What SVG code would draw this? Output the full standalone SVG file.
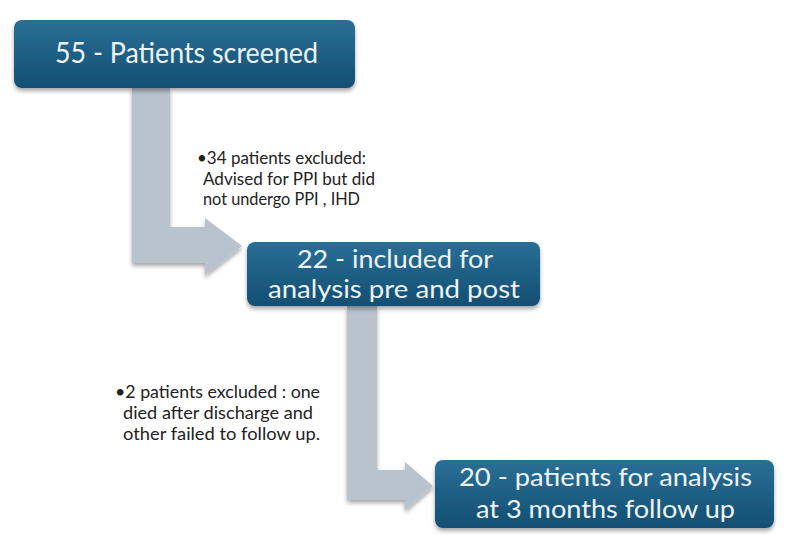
<svg xmlns="http://www.w3.org/2000/svg" width="794" height="544" viewBox="0 0 794 544">
<defs>
<linearGradient id="boxg" x1="0" y1="0" x2="0" y2="1">
<stop offset="0" stop-color="#2a6f96"/>
<stop offset="1" stop-color="#134f73"/>
</linearGradient>
<filter id="sh" x="-10%" y="-20%" width="120%" height="150%">
<feGaussianBlur in="SourceAlpha" stdDeviation="2"/>
<feOffset dx="0" dy="3"/>
<feComponentTransfer><feFuncA type="linear" slope="0.35"/></feComponentTransfer>
<feMerge><feMergeNode/><feMergeNode in="SourceGraphic"/></feMerge>
</filter>
</defs>
<style>
.box{fill:url(#boxg);filter:url(#sh)}
.bt{fill:#eef3f7;font-family:Lato,"Open Sans","Liberation Sans",sans-serif}
.arr{fill:#b8c3cd;filter:url(#sh)}
.note{fill:#222;font-family:Lato,"Open Sans","Liberation Sans",sans-serif;font-size:17px}
</style>
<rect width="794" height="544" fill="#ffffff"/>
<g id="connectors">
<path class="arr" d="M132,88 H170 V227 H205 V218 L242,246 L205,275 V263 H132 Z"/>
<path class="arr" d="M347,306 H377 V470 H405 V462 L433,486 L405,510 V500 H347 Z"/>
</g>
<g id="n1">
<rect class="box" x="14" y="20" width="341" height="68" rx="8"/>
<text class="bt" x="55" y="63" font-size="29" textLength="263" lengthAdjust="spacingAndGlyphs">55 - Patients screened</text>
</g>
<g id="n2">
<rect class="box" x="247" y="242" width="293" height="64" rx="8"/>
<text class="bt" x="297" y="268" font-size="25" textLength="196" lengthAdjust="spacingAndGlyphs">22 - included for</text>
<text class="bt" x="268" y="298" font-size="25" textLength="252" lengthAdjust="spacingAndGlyphs">analysis pre and post</text>
</g>
<g id="n3">
<rect class="box" x="435" y="460" width="339" height="68" rx="8"/>
<text class="bt" x="459" y="486" font-size="25" textLength="293" lengthAdjust="spacingAndGlyphs">20 - patients for analysis</text>
<text class="bt" x="476" y="518" font-size="25" textLength="259" lengthAdjust="spacingAndGlyphs">at 3 months follow up</text>
</g>
<g id="t1">
<text class="note" x="197" y="164" textLength="169" lengthAdjust="spacingAndGlyphs">•34 patients excluded:</text>
<text class="note" x="203" y="185" textLength="172" lengthAdjust="spacingAndGlyphs">Advised for PPI but did</text>
<text class="note" x="203" y="205" textLength="157" lengthAdjust="spacingAndGlyphs">not undergo PPI , IHD</text>
</g>
<g id="t2">
<text class="note" x="115" y="398" textLength="205" lengthAdjust="spacingAndGlyphs">•2 patients excluded : one</text>
<text class="note" x="123" y="419" textLength="190" lengthAdjust="spacingAndGlyphs">died after discharge and</text>
<text class="note" x="123" y="440" textLength="197" lengthAdjust="spacingAndGlyphs">other failed to follow up.</text>
</g>
</svg>
